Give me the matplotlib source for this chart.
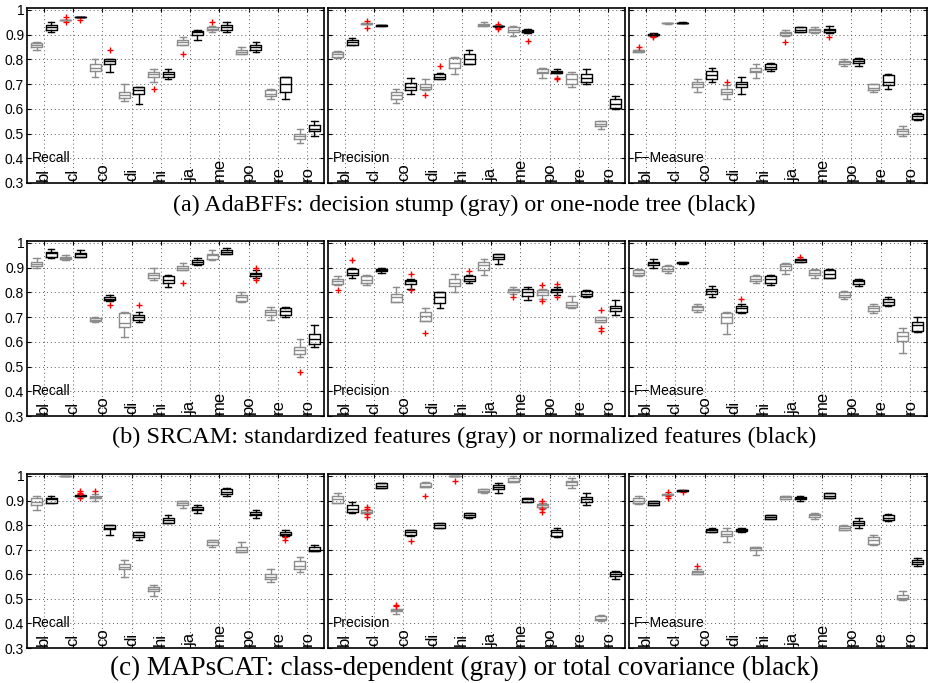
import matplotlib
matplotlib.use("Agg")
import matplotlib.pyplot as plt
import matplotlib.transforms as mtransforms

plt.rcParams['font.family'] = ['Liberation Sans', 'DejaVu Sans']

categories = ["bl", "cl", "co", "di", "hi", "ja", "me", "po", "re", "ro"]
yticks = [0.3, 0.4, 0.5, 0.6, 0.7, 0.8, 0.9, 1.0]
ytick_labels = ["0.3", "0.4", "0.5", "0.6", "0.7", "0.8", "0.9", "1"]
captions = [
    "(a) AdaBFFs: decision stump (gray) or one-node tree (black)",
    "(b) SRCAM: standardized features (gray) or normalized features (black)",
    "(c) MAPsCAT: class-dependent (gray) or total covariance (black)",
]
measures = ["Recall", "Precision", "F\u2212Measure"]

# each row: (whisker low, q1, median, q3, whisker high); even index = gray, odd = black
ada_recall = [
    (0.84, 0.85, 0.86, 0.865, 0.87), (0.91, 0.92, 0.93, 0.94, 0.95),
    (0.959, 0.96, 0.96, 0.961, 0.961), (0.97, 0.97, 0.972, 0.973, 0.973),
    (0.73, 0.755, 0.765, 0.78, 0.80), (0.75, 0.78, 0.795, 0.80, 0.80),
    (0.63, 0.645, 0.655, 0.67, 0.70), (0.62, 0.66, 0.675, 0.69, 0.69),
    (0.71, 0.73, 0.74, 0.75, 0.76), (0.72, 0.73, 0.74, 0.75, 0.76),
    (0.86, 0.86, 0.87, 0.88, 0.89), (0.88, 0.90, 0.91, 0.915, 0.92),
    (0.91, 0.92, 0.925, 0.93, 0.935), (0.91, 0.92, 0.93, 0.94, 0.95),
    (0.82, 0.82, 0.83, 0.84, 0.85), (0.83, 0.84, 0.85, 0.86, 0.87),
    (0.64, 0.65, 0.66, 0.675, 0.68), (0.64, 0.67, 0.70, 0.73, 0.73),
    (0.46, 0.48, 0.49, 0.50, 0.52), (0.49, 0.51, 0.52, 0.535, 0.55),
]
ada_recall_out = {2: [0.972, 0.95], 3: [0.96], 5: [0.84], 8: [0.68], 10: [0.82], 12: [0.95]}

ada_prec = [
    (0.805, 0.81, 0.82, 0.83, 0.835), (0.86, 0.86, 0.87, 0.88, 0.885),
    (0.943, 0.944, 0.945, 0.946, 0.947), (0.936, 0.936, 0.938, 0.94, 0.94),
    (0.625, 0.64, 0.655, 0.67, 0.68), (0.66, 0.675, 0.69, 0.705, 0.725),
    (0.675, 0.68, 0.69, 0.70, 0.72), (0.72, 0.72, 0.73, 0.74, 0.745),
    (0.74, 0.765, 0.785, 0.805, 0.81), (0.78, 0.78, 0.80, 0.82, 0.84),
    (0.935, 0.935, 0.94, 0.945, 0.95), (0.933, 0.934, 0.935, 0.936, 0.937),
    (0.895, 0.91, 0.92, 0.93, 0.935), (0.905, 0.91, 0.915, 0.92, 0.925),
    (0.725, 0.745, 0.75, 0.76, 0.765), (0.745, 0.745, 0.75, 0.755, 0.76),
    (0.69, 0.70, 0.72, 0.74, 0.75), (0.70, 0.71, 0.725, 0.74, 0.76),
    (0.52, 0.53, 0.54, 0.55, 0.55), (0.60, 0.605, 0.62, 0.64, 0.65),
]
ada_prec_out = {2: [0.954, 0.927], 6: [0.656], 7: [0.775], 11: [0.945, 0.928, 0.924],
                13: [0.875], 15: [0.72, 0.725]}

ada_f = [
    (0.83, 0.83, 0.835, 0.84, 0.84), (0.895, 0.898, 0.90, 0.902, 0.905),
    (0.945, 0.946, 0.947, 0.948, 0.949), (0.946, 0.947, 0.948, 0.949, 0.951),
    (0.67, 0.69, 0.70, 0.71, 0.72), (0.71, 0.72, 0.735, 0.755, 0.765),
    (0.64, 0.66, 0.67, 0.68, 0.695), (0.66, 0.69, 0.70, 0.71, 0.73),
    (0.725, 0.75, 0.755, 0.765, 0.78), (0.755, 0.76, 0.77, 0.78, 0.785),
    (0.895, 0.90, 0.905, 0.91, 0.92), (0.91, 0.91, 0.92, 0.93, 0.93),
    (0.905, 0.91, 0.92, 0.925, 0.93), (0.905, 0.91, 0.92, 0.925, 0.935),
    (0.775, 0.78, 0.79, 0.795, 0.80), (0.775, 0.785, 0.795, 0.80, 0.805),
    (0.67, 0.675, 0.685, 0.70, 0.70), (0.68, 0.695, 0.71, 0.735, 0.74),
    (0.49, 0.50, 0.51, 0.52, 0.53), (0.555, 0.56, 0.57, 0.58, 0.585),
]
ada_f_out = {0: [0.85], 1: [0.89, 0.894], 6: [0.71], 10: [0.87], 13: [0.89]}

sr_recall = [
    (0.90, 0.905, 0.915, 0.925, 0.94), (0.94, 0.945, 0.96, 0.965, 0.975),
    (0.93, 0.935, 0.94, 0.945, 0.95), (0.945, 0.945, 0.955, 0.96, 0.97),
    (0.68, 0.685, 0.69, 0.695, 0.70), (0.765, 0.77, 0.775, 0.78, 0.79),
    (0.62, 0.66, 0.675, 0.715, 0.72), (0.68, 0.69, 0.70, 0.71, 0.72),
    (0.85, 0.86, 0.87, 0.88, 0.90), (0.82, 0.84, 0.85, 0.865, 0.87),
    (0.89, 0.89, 0.90, 0.905, 0.92), (0.91, 0.915, 0.925, 0.93, 0.94),
    (0.93, 0.935, 0.95, 0.955, 0.97), (0.955, 0.955, 0.965, 0.97, 0.98),
    (0.76, 0.765, 0.78, 0.79, 0.80), (0.86, 0.865, 0.875, 0.88, 0.89),
    (0.69, 0.71, 0.72, 0.73, 0.74), (0.70, 0.71, 0.725, 0.735, 0.74),
    (0.54, 0.55, 0.565, 0.58, 0.61), (0.58, 0.59, 0.61, 0.63, 0.67),
]
sr_recall_out = {5: [0.75], 7: [0.75], 10: [0.84], 15: [0.90, 0.85], 18: [0.48]}

sr_prec = [
    (0.83, 0.835, 0.845, 0.855, 0.865), (0.86, 0.87, 0.88, 0.895, 0.90),
    (0.83, 0.84, 0.85, 0.865, 0.87), (0.88, 0.885, 0.89, 0.895, 0.90),
    (0.76, 0.76, 0.78, 0.795, 0.82), (0.815, 0.835, 0.845, 0.85, 0.855),
    (0.685, 0.685, 0.705, 0.72, 0.735), (0.735, 0.757, 0.78, 0.80, 0.80),
    (0.80, 0.825, 0.84, 0.855, 0.875), (0.84, 0.845, 0.855, 0.865, 0.87),
    (0.87, 0.89, 0.91, 0.925, 0.935), (0.915, 0.935, 0.945, 0.955, 0.955),
    (0.795, 0.80, 0.81, 0.815, 0.82), (0.77, 0.785, 0.80, 0.815, 0.82),
    (0.775, 0.79, 0.80, 0.81, 0.815), (0.79, 0.80, 0.81, 0.815, 0.82),
    (0.735, 0.74, 0.75, 0.76, 0.785), (0.78, 0.785, 0.795, 0.805, 0.81),
    (0.68, 0.68, 0.69, 0.70, 0.70), (0.71, 0.725, 0.735, 0.745, 0.77),
]
sr_prec_out = {0: [0.81], 1: [0.93], 5: [0.875, 0.81], 6: [0.635], 9: [0.885],
               12: [0.78], 14: [0.83, 0.765], 15: [0.835, 0.78], 18: [0.73, 0.655, 0.645]}

sr_f = [
    (0.865, 0.87, 0.88, 0.89, 0.895), (0.90, 0.91, 0.92, 0.925, 0.935),
    (0.88, 0.885, 0.895, 0.905, 0.91), (0.915, 0.918, 0.92, 0.923, 0.925),
    (0.72, 0.73, 0.74, 0.745, 0.755), (0.78, 0.795, 0.805, 0.815, 0.825),
    (0.63, 0.675, 0.70, 0.715, 0.72), (0.715, 0.72, 0.735, 0.745, 0.755),
    (0.84, 0.845, 0.855, 0.865, 0.87), (0.83, 0.84, 0.855, 0.865, 0.87),
    (0.875, 0.89, 0.905, 0.915, 0.92), (0.925, 0.925, 0.93, 0.935, 0.935),
    (0.86, 0.87, 0.88, 0.89, 0.895), (0.86, 0.86, 0.875, 0.89, 0.895),
    (0.775, 0.78, 0.79, 0.80, 0.805), (0.825, 0.835, 0.845, 0.85, 0.855),
    (0.715, 0.725, 0.735, 0.745, 0.755), (0.745, 0.75, 0.76, 0.775, 0.78),
    (0.555, 0.605, 0.625, 0.64, 0.655), (0.64, 0.645, 0.67, 0.68, 0.70),
]
sr_f_out = {7: [0.775], 11: [0.945]}

map_recall = [
    (0.86, 0.88, 0.895, 0.91, 0.92), (0.89, 0.89, 0.905, 0.91, 0.92),
    (0.999, 0.999, 1.0, 1.0, 1.0), (0.918, 0.919, 0.92, 0.921, 0.922),
    (0.90, 0.91, 0.915, 0.92, 0.925), (0.76, 0.785, 0.79, 0.80, 0.80),
    (0.59, 0.62, 0.63, 0.64, 0.66), (0.74, 0.75, 0.76, 0.77, 0.77),
    (0.51, 0.53, 0.54, 0.55, 0.555), (0.81, 0.81, 0.82, 0.83, 0.84),
    (0.87, 0.88, 0.89, 0.90, 0.90), (0.85, 0.86, 0.865, 0.875, 0.88),
    (0.71, 0.72, 0.73, 0.74, 0.74), (0.92, 0.925, 0.935, 0.945, 0.95),
    (0.69, 0.69, 0.70, 0.71, 0.73), (0.83, 0.84, 0.845, 0.855, 0.86),
    (0.57, 0.58, 0.59, 0.60, 0.62), (0.755, 0.76, 0.765, 0.77, 0.78),
    (0.61, 0.62, 0.635, 0.655, 0.67), (0.695, 0.695, 0.70, 0.71, 0.72),
]
map_recall_out = {3: [0.94, 0.93, 0.925, 0.91], 4: [0.94], 17: [0.75, 0.74]}

map_prec = [
    (0.89, 0.89, 0.905, 0.92, 0.93), (0.85, 0.855, 0.865, 0.88, 0.895),
    (0.85, 0.85, 0.855, 0.86, 0.86), (0.95, 0.95, 0.96, 0.97, 0.97),
    (0.44, 0.45, 0.455, 0.46, 0.46), (0.755, 0.76, 0.77, 0.78, 0.78),
    (0.955, 0.955, 0.96, 0.97, 0.975), (0.79, 0.79, 0.80, 0.81, 0.81),
    (0.999, 0.999, 1.0, 1.0, 1.0), (0.83, 0.835, 0.84, 0.85, 0.85),
    (0.93, 0.935, 0.94, 0.945, 0.945), (0.93, 0.945, 0.955, 0.965, 0.97),
    (0.975, 0.975, 0.98, 0.99, 1.0), (0.895, 0.895, 0.905, 0.91, 0.91),
    (0.87, 0.875, 0.88, 0.885, 0.89), (0.75, 0.755, 0.77, 0.78, 0.79),
    (0.95, 0.965, 0.975, 0.98, 0.99), (0.88, 0.895, 0.905, 0.915, 0.93),
    (0.41, 0.415, 0.42, 0.43, 0.435), (0.58, 0.595, 0.60, 0.61, 0.615),
]
map_prec_out = {2: [0.875, 0.865, 0.845, 0.835], 4: [0.47, 0.475], 5: [0.735],
                6: [0.92], 8: [0.98], 14: [0.90, 0.865, 0.855]}

map_f = [
    (0.885, 0.89, 0.90, 0.91, 0.92), (0.88, 0.88, 0.89, 0.90, 0.90),
    (0.923, 0.924, 0.925, 0.926, 0.927), (0.938, 0.939, 0.94, 0.941, 0.942),
    (0.60, 0.60, 0.61, 0.615, 0.62), (0.77, 0.77, 0.78, 0.785, 0.79),
    (0.73, 0.755, 0.765, 0.775, 0.79), (0.77, 0.775, 0.78, 0.785, 0.79),
    (0.68, 0.70, 0.705, 0.71, 0.71), (0.825, 0.825, 0.835, 0.84, 0.84),
    (0.905, 0.905, 0.915, 0.92, 0.92), (0.90, 0.905, 0.91, 0.915, 0.92),
    (0.825, 0.835, 0.84, 0.845, 0.85), (0.91, 0.91, 0.92, 0.93, 0.93),
    (0.78, 0.78, 0.79, 0.795, 0.80), (0.79, 0.80, 0.81, 0.815, 0.83),
    (0.72, 0.725, 0.74, 0.75, 0.76), (0.815, 0.82, 0.83, 0.84, 0.845),
    (0.495, 0.50, 0.505, 0.515, 0.53), (0.635, 0.64, 0.65, 0.66, 0.665),
]
map_f_out = {2: [0.935, 0.92, 0.91], 3: [0.935], 4: [0.635]}

panels = [
    [(ada_recall, ada_recall_out), (ada_prec, ada_prec_out), (ada_f, ada_f_out)],
    [(sr_recall, sr_recall_out), (sr_prec, sr_prec_out), (sr_f, sr_f_out)],
    [(map_recall, map_recall_out), (map_prec, map_prec_out), (map_f, map_f_out)],
]

W, H = 929, 683
fig = plt.figure(figsize=(W / 100, H / 100), dpi=100)

# panel edges in pixels
col_px = [(27, 324), (328, 625), (629, 927)]
row_px = [(8, 183), (241, 416), (474, 648)]
caption_y = [205, 437, 668]
caption_size = [17.3, 17.5, 19.5]
GRAY = "0.55"


def stats_for(boxes, outs, idx):
    res = []
    for i in idx:
        lo, q1, med, q3, hi = boxes[i]
        res.append(dict(whislo=lo, q1=q1, med=med, q3=q3, whishi=hi,
                        fliers=outs.get(i, [])))
    return res


for r in range(3):
    for c in range(3):
        x0, x1 = col_px[c]
        ytop, ybot = row_px[r]
        ax = fig.add_axes([x0 / W, 1 - ybot / H, (x1 - x0) / W, (ybot - ytop) / H])
        boxes, outs = panels[r][c]
        for k, color in enumerate([GRAY, "black"]):
            idx = list(range(k, 20, 2))
            pos = [i + 1 for i in idx]
            lp = dict(color=color, linewidth=1.0)
            ax.bxp(stats_for(boxes, outs, idx), positions=pos, widths=0.75,
                   capwidths=0.45, boxprops=lp, medianprops=lp, whiskerprops=lp,
                   capprops=lp, manage_ticks=False,
                   flierprops=dict(marker="+", markeredgecolor="red",
                                   markersize=5, linestyle="none"))
        ax.set_xlim(0.35, 20.65)
        ax.set_ylim(0.3, 1.008)
        ax.set_xticks([2 * i + 1.5 for i in range(10)])
        ax.set_xticklabels([])
        ax.set_yticks(yticks)
        if c == 0:
            ax.set_yticklabels(ytick_labels, fontsize=10)
        else:
            ax.set_yticklabels([])
        ax.tick_params(direction="in", length=3, top=True, right=True, pad=2)
        ax.grid(True, linestyle=(0, (1, 3)), color="0.35", linewidth=0.7)
        for s in ax.spines.values():
            s.set_linewidth(1.2)
        for i, cat in enumerate(categories):
            ax.text(2 * i + 1.5, 0.012, cat, rotation=90, ha="center", va="bottom",
                    fontsize=12, transform=ax.get_xaxis_transform())
        tr = mtransforms.blended_transform_factory(ax.transAxes, ax.transData)
        ax.text(0.015, 0.40, measures[c], fontsize=10, ha="left", va="center", transform=tr)
    fig.text(0.5, 1 - caption_y[r] / H, captions[r], ha="center", va="center",
             fontsize=caption_size[r], family="Liberation Serif")

fig.savefig("out.png", dpi=100)
